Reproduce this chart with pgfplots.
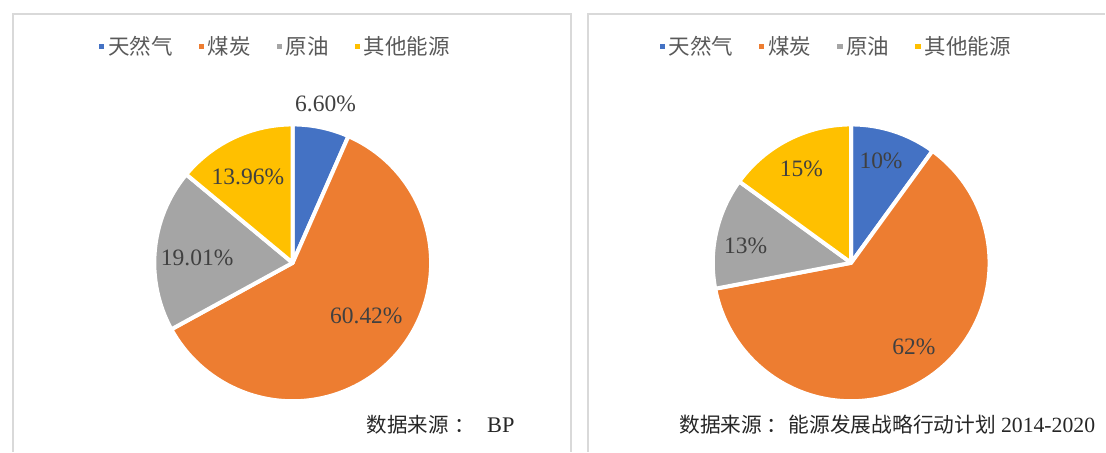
\documentclass[border=0pt]{standalone}
\usepackage{pgfplots}
\pgfplotsset{compat=1.18}
\usepackage{fontspec}
\setmainfont{Liberation Serif}
\newfontfamily\cjk{Noto Sans CJK SC}
\definecolor{cblue}{HTML}{4472C4}
\definecolor{corange}{HTML}{ED7D31}
\definecolor{cgray}{HTML}{A5A5A5}
\definecolor{cgold}{HTML}{FFC000}
\definecolor{lbl}{HTML}{404040}
\definecolor{leg}{HTML}{595959}
\definecolor{frame}{HTML}{D9D9D9}
\pgfplotsset{
  mysq/.style={legend image code/.code={\fill[##1] (0pt,-1.3pt) rectangle (2.6pt,1.3pt);}},
  panel/.style={
    scale only axis, height=227pt, ymin=0, ymax=454, y dir=reverse,
    hide axis, clip=false, enlargelimits=false,
    legend columns=4,
    legend style={draw=none, fill=none, font=\cjk\fontsize{10.8}{12}\selectfont, text=leg,
      /tikz/every even column/.append style={column sep=11pt},
      legend cell align=left},
  }
}
% slice: cx, cy, start (percent), value (percent), colour
\newcommand{\slice}[5]{%
  \fill[#5, draw=white, line width=2pt, line join=round]
    (axis cs:#1,#2) -- ++({90-3.6*#3}:69.5pt)
    arc[start angle={90-3.6*#3}, delta angle={-3.6*#4}, radius=69.5pt] -- cycle;}
\begin{document}
\begin{tikzpicture}
% ---------- left panel ----------
\begin{axis}[panel, at={(0pt,0pt)}, anchor=south west, width=290pt, xmin=0, xmax=580,
  legend style={at={(0.479,0.8965)}, anchor=center}]
  \path (axis cs:0,0) rectangle (axis cs:580,454);
  \draw[frame, line width=1pt] (axis cs:13,454) -- (axis cs:13,14) -- (axis cs:574,14) -- (axis cs:574,454);
  \addlegendimage{mysq, fill=cblue, draw=none}\addlegendentry{天然气}
  \addlegendimage{mysq, fill=corange, draw=none}\addlegendentry{煤炭}
  \addlegendimage{mysq, fill=cgray, draw=none}\addlegendentry{原油}
  \addlegendimage{mysq, fill=cgold, draw=none}\addlegendentry{其他能源}
  \slice{294}{264}{0}{6.60}{cblue}
  \slice{294}{264}{6.60}{60.42}{corange}
  \slice{294}{264}{67.02}{19.01}{cgray}
  \slice{294}{264}{86.03}{13.96}{cgold}
  \begin{scope}[every node/.style={font=\fontsize{11.8}{13}\selectfont, text=lbl, inner sep=0pt}]
  \node at (axis cs:327,104) {6.60\%};
  \node at (axis cs:249,178) {13.96\%};
  \node at (axis cs:198,259) {19.01\%};
  \node at (axis cs:368,317) {60.42\%};
  \end{scope}
  \node[anchor=west, inner sep=0pt, text=black!85, font=\fontsize{10.3}{12}\selectfont] at (axis cs:368,427) {{\cjk 数据来源}\hspace{3pt}{\cjk ：}\hspace{6pt}{\fontsize{11.2}{12}\selectfont BP}};
\end{axis}
% ---------- right panel ----------
\begin{axis}[panel, at={(290pt,0pt)}, anchor=south west, width=263pt, xmin=580, xmax=1106,
  legend style={at={(0.496,0.8965)}, anchor=center}]
  \path (axis cs:580,0) rectangle (axis cs:1106,454);
  \draw[frame, line width=1pt] (axis cs:591,454) -- (axis cs:591,14) -- (axis cs:1110,14);
  \addlegendimage{mysq, fill=cblue, draw=none}\addlegendentry{天然气}
  \addlegendimage{mysq, fill=corange, draw=none}\addlegendentry{煤炭}
  \addlegendimage{mysq, fill=cgray, draw=none}\addlegendentry{原油}
  \addlegendimage{mysq, fill=cgold, draw=none}\addlegendentry{其他能源}
  \slice{855}{264}{0}{10}{cblue}
  \slice{855}{264}{10}{62}{corange}
  \slice{855}{264}{72}{13}{cgray}
  \slice{855}{264}{85}{15}{cgold}
  \begin{scope}[every node/.style={font=\fontsize{11.8}{13}\selectfont, text=lbl, inner sep=0pt}]
  \node at (axis cs:885,162) {10\%};
  \node at (axis cs:805,170) {15\%};
  \node at (axis cs:749,247) {13\%};
  \node at (axis cs:918,348) {62\%};
  \end{scope}
  \node[anchor=west, inner sep=0pt, text=black!85, font=\fontsize{10.4}{12}\selectfont] at (axis cs:682,427) {{\cjk 数据来源}\hspace{2pt}{\cjk ：}\hspace{1pt}{\cjk 能源发展战略行动计划} {\fontsize{10.9}{12}\selectfont 2014-2020}};
\end{axis}
\end{tikzpicture}
\end{document}
